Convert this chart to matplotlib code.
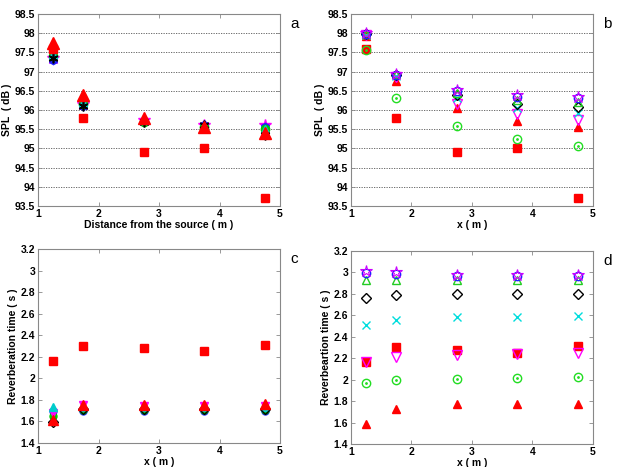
import matplotlib
matplotlib.use("Agg")
import matplotlib.pyplot as plt

plt.rcParams["font.family"] = ["Liberation Sans", "DejaVu Sans"]

x = [1.25, 1.75, 2.75, 3.75, 4.75]

# panel a: SPL vs distance
a_magenta_star = [97.35, 96.15, 95.75, 95.6, 95.6]
a_blue_hex = [97.3, 96.1, 95.7, 95.6, 95.55]
a_green_circ = [97.4, 96.15, 95.7, 95.55, 95.5]
a_cyan_tri = [97.45, 96.2, 95.75, 95.55, 95.5]
a_black_star = [97.35, 96.1, 95.7, 95.6, 95.35]
a_red_square = [97.6, 95.8, 94.9, 95.0, 93.7]
a_red_tri = [97.75, 96.4, 95.8, 95.55, 95.4]

# panel b: SPL vs x
b_red_square = [97.6, 95.8, 94.9, 95.0, 93.7]
b_green_dot = [97.55, 96.3, 95.58, 95.25, 95.07]
b_red_tri = [97.93, 96.75, 96.05, 95.72, 95.55]
b_magenta_tridown = [97.95, 96.85, 96.15, 95.9, 95.75]
b_cyan_x = [97.95, 96.88, 96.3, 96.05, 95.92]
b_black_diamond = [97.97, 96.9, 96.38, 96.15, 96.07]
b_green_tri = [97.97, 96.93, 96.45, 96.27, 96.22]
b_blue_circ = [97.98, 96.92, 96.5, 96.35, 96.3]
b_magenta_star = [98.0, 96.95, 96.52, 96.4, 96.33]

# panel c: reverberation time vs x
c_red_square = [2.16, 2.30, 2.28, 2.25, 2.31]
c_blue_circ = [1.70, 1.70, 1.70, 1.70, 1.70]
c_green_circ = [1.65, 1.71, 1.71, 1.71, 1.71]
c_magenta_tri = [1.68, 1.75, 1.74, 1.74, 1.74]
c_cyan_tri = [1.73, 1.73, 1.73, 1.73, 1.73]
c_black_diamond = [1.595, 1.72, 1.72, 1.72, 1.72]
c_red_tri = [1.61, 1.75, 1.755, 1.755, 1.76]

# panel d: reverberation time vs x
d_red_square = [2.16, 2.30, 2.28, 2.25, 2.31]
d_magenta_tridown = [2.16, 2.21, 2.23, 2.24, 2.25]
d_green_dot = [1.97, 1.995, 2.01, 2.015, 2.02]
d_red_tri = [1.585, 1.73, 1.775, 1.775, 1.775]
d_cyan_x = [2.51, 2.555, 2.58, 2.58, 2.59]
d_black_diamond = [2.765, 2.79, 2.795, 2.795, 2.795]
d_green_tri = [2.93, 2.93, 2.93, 2.93, 2.93]
d_blue_circ = [2.99, 2.985, 2.97, 2.965, 2.965]
d_magenta_star = [3.01, 3.0, 2.98, 2.975, 2.975]

FS = 7.5


def style_axes(ax, ylim, yticks, ylabel, xlabel, letter, grid):
    ax.set_xlim(1, 5)
    ax.set_ylim(*ylim)
    ax.set_xticks([1, 2, 3, 4, 5])
    ax.set_yticks(yticks)
    ax.set_yticklabels([f"{t:g}" for t in yticks])
    ax.tick_params(direction="in", length=3, width=0.6, labelsize=FS, top=True,
                   right=True, colors="#888888", labelcolor="black", pad=2)
    for lbl in ax.get_xticklabels() + ax.get_yticklabels():
        lbl.set_fontweight("bold")
    for sp in ax.spines.values():
        sp.set_color("#888888")
        sp.set_linewidth(0.8)
    ax.set_ylabel(ylabel, fontsize=FS, fontweight="bold", labelpad=2)
    ax.set_xlabel(xlabel, fontsize=FS, fontweight="bold", labelpad=1)
    if grid:
        ax.yaxis.grid(True, linestyle=(0, (1.5, 1.5)), color="#555555", linewidth=0.6)
        ax.set_axisbelow(True)
    ax.text(1.06, 0.95, letter, transform=ax.transAxes, fontsize=11, va="center", ha="center")


def mk(ax, y, marker, color, filled=True, size=6, mew=1.0):
    if filled:
        ax.plot(x, y, linestyle="none", marker=marker, color=color, markersize=size,
                markeredgecolor=color, markeredgewidth=mew)
    else:
        ax.plot(x, y, linestyle="none", marker=marker, markerfacecolor="none",
                markeredgecolor=color, markersize=size, markeredgewidth=mew)


fig = plt.figure(figsize=(6.21, 4.67), dpi=100)

# panel a
ax = fig.add_axes([0.0612, 0.5589, 0.3897, 0.4111])
mk(ax, a_magenta_star, "*", "#ff00ff", size=9)
mk(ax, a_blue_hex, "h", "#2020ff", size=6)
mk(ax, a_green_circ, "o", "#00cc00", size=6)
mk(ax, a_cyan_tri, "^", "#00cccc", size=6)
mk(ax, a_black_star, (6, 2, 0), "black", size=7, mew=1.2)
mk(ax, a_red_square, "s", "red", size=6)
mk(ax, a_red_tri, "^", "red", size=8)
style_axes(ax, (93.5, 98.5), [93.5, 94, 94.5, 95, 95.5, 96, 96.5, 97, 97.5, 98, 98.5],
           "SPL  ( dB )", "Distance from the source ( m )", "a", True)

# panel b
ax = fig.add_axes([0.5652, 0.5589, 0.3897, 0.4111])
mk(ax, b_red_square, "s", "red", size=6)
mk(ax, b_green_dot, "o", "#22dd22", filled=False, size=6)
mk(ax, b_green_dot, ".", "#22dd22", size=2)
mk(ax, b_red_tri, "^", "red", size=6)
mk(ax, b_magenta_tridown, "v", "#ff00ff", filled=False, size=7)
mk(ax, b_cyan_x, "x", "#00dddd", size=6)
mk(ax, b_black_diamond, "D", "black", filled=False, size=5)
mk(ax, b_green_tri, "^", "#22cc22", filled=False, size=6)
mk(ax, b_blue_circ, "o", "#2020ff", filled=False, size=6)
mk(ax, b_magenta_star, "*", "#cc00ff", filled=False, size=9, mew=0.8)
style_axes(ax, (93.5, 98.5), [93.5, 94, 94.5, 95, 95.5, 96, 96.5, 97, 97.5, 98, 98.5],
           "SPL  ( dB )", "x ( m )", "b", True)

# panel c
ax = fig.add_axes([0.0612, 0.0514, 0.3897, 0.4154])
mk(ax, c_red_square, "s", "red", size=6)
mk(ax, c_blue_circ, "o", "#2020ff", size=5)
mk(ax, c_green_circ, "o", "#00cc00", size=5)
mk(ax, c_magenta_tri, "v", "#ff00ff", size=6)
mk(ax, c_cyan_tri, "^", "#00cccc", size=6)
mk(ax, c_black_diamond, "D", "black", filled=False, size=5)
mk(ax, c_red_tri, "^", "red", size=7)
style_axes(ax, (1.4, 3.2), [1.4, 1.6, 1.8, 2, 2.2, 2.4, 2.6, 2.8, 3, 3.2],
           "Reverberation time ( s )", "x ( m )", "c", False)

# panel d
ax = fig.add_axes([0.5652, 0.0493, 0.3897, 0.4133])
mk(ax, d_red_square, "s", "red", size=6)
mk(ax, d_magenta_tridown, "v", "#ff00ff", filled=False, size=7)
mk(ax, d_green_dot, "o", "#22dd22", filled=False, size=6)
mk(ax, d_green_dot, ".", "#22dd22", size=2)
mk(ax, d_red_tri, "^", "red", size=6)
mk(ax, d_cyan_x, "x", "#00dddd", size=6)
mk(ax, d_black_diamond, "D", "black", filled=False, size=5)
mk(ax, d_green_tri, "^", "#22cc22", filled=False, size=6)
mk(ax, d_blue_circ, "o", "#2020ff", filled=False, size=6)
mk(ax, d_magenta_star, "*", "#cc00ff", filled=False, size=9, mew=0.8)
style_axes(ax, (1.4, 3.2), [1.4, 1.6, 1.8, 2, 2.2, 2.4, 2.6, 2.8, 3, 3.2],
           "Reverbeartion time ( s )", "x ( m )", "d", False)

fig.savefig("out.png", dpi=100)
